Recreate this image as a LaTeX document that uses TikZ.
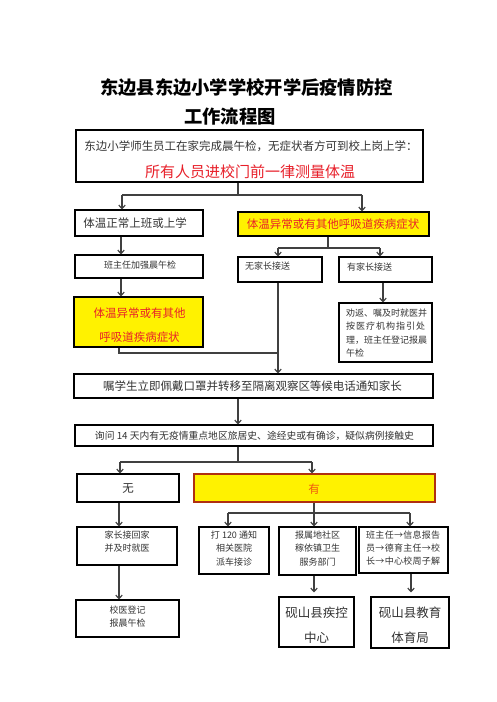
\documentclass[tikz,border=0pt]{standalone}
\usepackage{fontspec}
\newfontfamily\cjk{Noto Sans CJK SC}
\usetikzlibrary{arrows.meta}
\definecolor{linegray}{HTML}{404040}
\definecolor{txtgray}{HTML}{333333}
\definecolor{redtxt}{HTML}{E8202A}
\definecolor{orangetxt}{HTML}{F05A10}
\definecolor{ybord}{HTML}{B03010}
\newcommand\mybox[6]{\node[#6, minimum width={(#4-#2)*1pt}, minimum height={(#5-#3)*1pt}] (#1) at ({(#2+#4)/2},{(#3+#5)/2}) {};}
\newcommand\fs[1]{\fontsize{#1}{#1}\selectfont}
\begin{document}
\begin{tikzpicture}[x=1pt,y=-1pt,
  box/.style={draw=black, line width=1.1pt, inner sep=0pt},
  ybox/.style={box, fill=yellow},
  txt/.style={inner sep=0pt, text=txtgray, font=\cjk\fs{11.5}},
  small/.style={txt, font=\cjk\fs{9}},
  red/.style={txt, text=redtxt},
  ln/.style={line width=1.2pt, draw=linegray},
  arr/.style={ln, -{Straight Barb[length=3.5pt,width=6.5pt]}}]
\fill[white] (0,0) rectangle (496,702);
\useasboundingbox (0,0) rectangle (496,702);
% title
\node[inner sep=0pt, font=\cjk\bfseries\fs{18.3}] (title1) at (246.5,88) {东边县东边小学学校开学后疫情防控};
\node[inner sep=0pt, font=\cjk\bfseries\fs{18.3}] (title2) at (230,117) {工作流程图};
% boxes
\mybox{b1}{76}{130}{423}{182}{box}
\node[txt] (t1a) at (251,146) {东边小学师生员工在家完成晨午检，无症状者方可到校上岗上学：};
\node[red, font=\cjk\fs{15}] (t1b) at (250,172) {所有人员进校门前一律测量体温};
\mybox{L1}{75}{210}{203}{236}{box}
\node[txt] (tL1) at (135,223) {体温正常上班或上学};
\mybox{R1}{238}{212}{429}{236}{ybox}
\node[red] (tR1) at (333,224) {体温异常或有其他呼吸道疾病症状};
\mybox{L2}{75}{255}{203}{278}{box}
\node[small] (tL2) at (140,265) {班主任加强晨午检};
\mybox{L3}{74}{297}{203}{347}{ybox}
\node[red] (tL3a) at (139.5,313) {体温异常或有其他};
\node[red] (tL3b) at (139.5,337) {呼吸道疾病症状};
\mybox{R2a}{238}{257}{322}{282}{box}
\node[small, anchor=west] (tR2a) at (245,266) {无家长接送};
\mybox{R2b}{339}{257}{432}{282}{box}
\node[small, anchor=west] (tR2b) at (347,267) {有家长接送};
\mybox{R3}{339}{303}{432}{362}{box}
\node[small, anchor=west] (tR3a) at (346,313) {\makebox[79pt][s]{劝\hfill 返\hfill 、\hfill 嘱\hfill 及\hfill 时\hfill 就\hfill 医\hfill 并}};
\node[small, anchor=west] (tR3b) at (346,326.5) {\makebox[79pt][s]{按\hfill 医\hfill 疗\hfill 机\hfill 构\hfill 指\hfill 引\hfill 处}};
\node[small, anchor=west] (tR3c) at (346,340) {\makebox[79pt][s]{理\hfill ，\hfill 班\hfill 主\hfill 任\hfill 登\hfill 记\hfill 报\hfill 晨}};
\node[small, anchor=west] (tR3d) at (346,353.5) {午检};
\mybox{M}{74}{374}{433}{398}{box}
\node[txt] (tM) at (252.5,386) {嘱学生立即佩戴口罩并转移至隔离观察区等候电话通知家长};
\mybox{Q}{75}{425}{433}{446}{box}
\node[txt, font=\cjk\fs{9.8}] (tQ) at (254.5,435.5) {询问 14 天内有无疫情重点地区旅居史、途经史或有确诊，疑似病例接触史};
\mybox{N}{77}{474}{179}{502}{box}
\node[txt] (tN) at (128,489) {无};
\mybox{Y}{194}{474}{435}{502}{ybox, draw=ybord}
\node[txt, text=orangetxt] (tY) at (314,489) {有};
\mybox{P1}{77}{527}{177}{565}{box}
\node[small] (tP1a) at (127,535) {家长接回家};
\node[small] (tP1b) at (127,548) {并及时就医};
\mybox{P2}{76}{600}{179}{637}{box}
\node[small] (tP2a) at (127.5,610) {校医登记};
\node[small] (tP2b) at (127.5,623) {报晨午检};
\mybox{H1}{199}{527}{269}{574}{box}
\node[small] (tH1a) at (234,535) {打 120 通知};
\node[small] (tH1b) at (234,548) {相关医院};
\node[small] (tH1c) at (234,562) {派车接诊};
\mybox{H2}{279}{527}{356}{575}{box}
\node[small] (tH2a) at (317.5,535) {报属地社区};
\node[small] (tH2b) at (317.5,548) {稼依镇卫生};
\node[small] (tH2c) at (317.5,562) {服务部门};
\mybox{H3}{359}{527}{448}{573}{box}
\node[small, anchor=west] (tH3a) at (366,535) {\makebox[74pt][s]{班\hfill 主\hfill 任\hfill →\hfill 信\hfill 息\hfill 报\hfill 告}};
\node[small, anchor=west] (tH3b) at (366,548) {\makebox[74pt][s]{员\hfill →\hfill 德\hfill 育\hfill 主\hfill 任\hfill →\hfill 校}};
\node[small, anchor=west] (tH3c) at (366,561) {\makebox[74pt][s]{长\hfill →\hfill 中\hfill 心\hfill 校\hfill 周\hfill 子\hfill 解}};
\mybox{C1}{279}{597}{354}{647}{box}
\node[txt, font=\cjk\fs{12.5}] (tC1a) at (316.5,613) {砚山县疾控};
\node[txt, font=\cjk\fs{12.5}] (tC1b) at (316.5,638) {中心};
\mybox{C2}{371}{597}{449}{648}{box}
\node[txt, font=\cjk\fs{12.5}] (tC2a) at (410,613) {砚山县教育};
\node[txt, font=\cjk\fs{12.5}] (tC2b) at (410,638) {体育局};
% junction coordinates
\coordinate (j1) at (238,195);
\coordinate (j1l) at (122,195);
\coordinate (j1r) at (362,195);
\coordinate (j2) at (328,248);
\coordinate (j2l) at (278,248);
\coordinate (j2r) at (380,248);
\coordinate (j3) at (119,353);
\coordinate (j3r) at (278,353);
\coordinate (j4) at (238,462);
\coordinate (j4l) at (120,462);
\coordinate (j4r) at (312,462);
\coordinate (j5) at (314,513);
\coordinate (j5l) at (228,513);
\coordinate (j5r) at (410,513);
% connectors
\draw[ln] (b1.south -| j1) -- (j1);
\draw[ln] (j1l) -- (j1r);
\draw[arr] (j1l) -- (j1l |- L1.north);
\draw[arr] (j1r) -- (j1r |- R1.north);
\draw[arr] (L1.south -| 121,0) -- (L2.north -| 121,0);
\draw[arr] (L2.south -| 121,0) -- (L3.north -| 121,0);
\draw[ln] (R1.south -| j2) -- (j2);
\draw[ln] (j2l) -- (j2r);
\draw[arr] (j2l) -- (j2l |- R2a.north);
\draw[arr] (j2r) -- (j2r |- R2b.north);
\draw[arr] (R2b.south -| 383,0) -- (R3.north -| 383,0);
\draw[ln] (L3.south -| j3) -- (j3) -- (j3r);
\draw[arr] (R2a.south -| j3r) -- (M.north -| j3r);
\draw[arr] (M.south -| j1) -- (Q.north -| j1);
\draw[ln] (Q.south -| j4) -- (j4);
\draw[ln] (j4l) -- (j4r);
\draw[arr] (j4l) -- (j4l |- N.north);
\draw[arr] (j4r) -- (j4r |- Y.north);
\draw[arr] (N.south -| 119,0) -- (P1.north -| 119,0);
\draw[ln] (Y.south -| j5) -- (j5);
\draw[ln] (j5l) -- (j5r);
\draw[arr] (j5l) -- (j5l |- H1.north);
\draw[arr] (j5) -- (j5 |- H2.north);
\draw[arr] (j5r) -- (j5r |- H3.north);
\draw[arr] (P1.south -| 119,0) -- (P2.north -| 119,0);
\draw[arr, shorten >=4pt] (H2.south -| 314,0) -- (C1.north -| 314,0);
\draw[arr, shorten >=4pt] (H3.south -| 411,0) -- (C2.north -| 411,0);
\end{tikzpicture}
\end{document}
